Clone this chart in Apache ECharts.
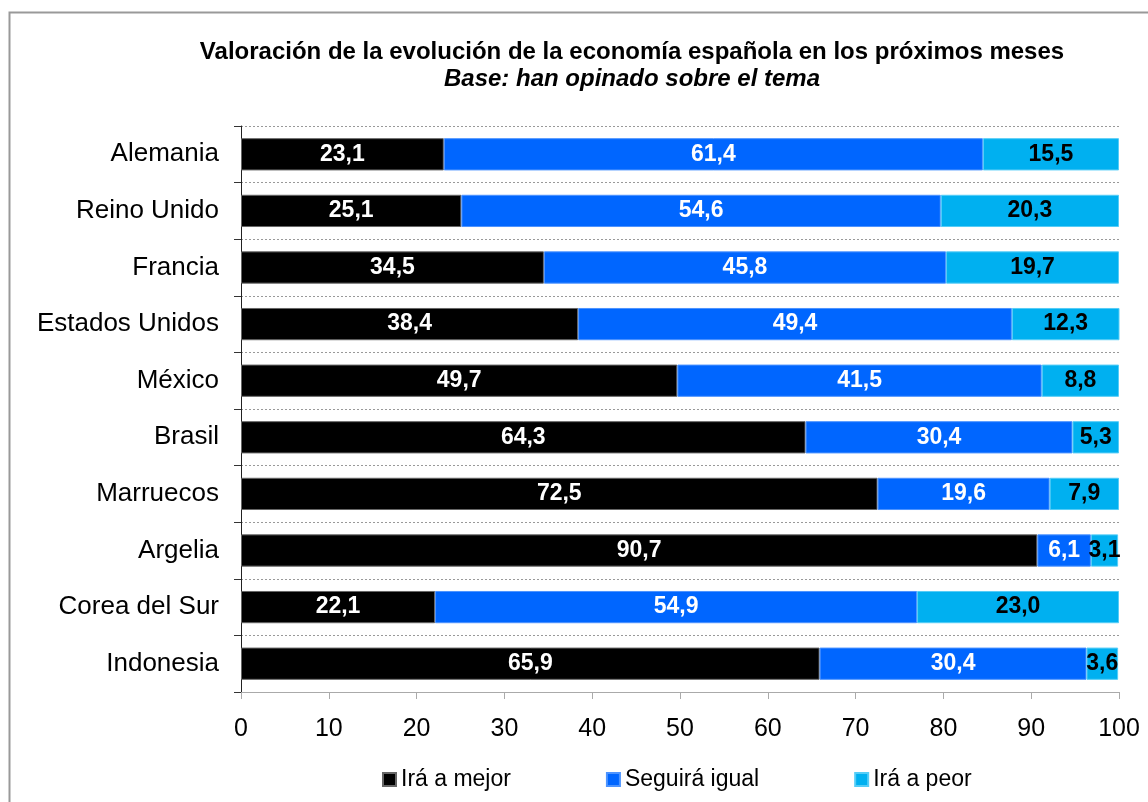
<!DOCTYPE html>
<html>
<head>
<meta charset="utf-8">
<script src="https://cdn.jsdelivr.net/npm/echarts@6/dist/echarts.min.js"></script>
<style>
  html, body { margin: 0; padding: 0; background: #fff; }
  #chart { width: 1148px; height: 802px; }
</style>
</head>
<body>
<div id="chart"></div>
<script>
const countries = ['Alemania', 'Reino Unido', 'Francia', 'Estados Unidos', 'México',
  'Brasil', 'Marruecos', 'Argelia', 'Corea del Sur', 'Indonesia']
const mejor = [23.1, 25.1, 34.5, 38.4, 49.7, 64.3, 72.5, 90.7, 22.1, 65.9]
const igual = [61.4, 54.6, 45.8, 49.4, 41.5, 30.4, 19.6, 6.1, 54.9, 30.4]
const peor = [15.5, 20.3, 19.7, 12.3, 8.8, 5.3, 7.9, 3.1, 23.0, 3.6]
const seriesNames = ['Irá a mejor', 'Seguirá igual', 'Irá a peor']

const font = 'Liberation Sans, Arial, Helvetica, sans-serif'
const fmt = (p) => p.value.toFixed(1).replace('.', ',')

function barSeries(name, data, color, border, labelColor) {
  return {
    name,
    type: 'bar',
    stack: 'total',
    barWidth: '57%',
    data,
    itemStyle: { color, borderColor: border, borderWidth: 1 },
    label: {
      show: true,
      position: 'inside',
      formatter: fmt,
      color: labelColor,
      fontFamily: font,
      fontWeight: 'bold',
      fontSize: 23
    }
  }
}

const chart = echarts.init(document.getElementById('chart'))
chart.setOption({
  animation: false,
  textStyle: { fontFamily: font },
  title: {
    text: 'Valoración de la evolución de la economía española en los próximos meses',
    subtext: 'Base: han opinado sobre el tema',
    left: 627,
    top: 35,
    textAlign: 'center',
    itemGap: 3,
    textStyle: { fontFamily: font, fontSize: 24, fontWeight: 'bold', color: '#000' },
    subtextStyle: { fontFamily: font, fontSize: 24, fontWeight: 'bold', fontStyle: 'italic', color: '#000' }
  },
  graphic: [{
    type: 'rect',
    shape: { x: 9.5, y: 12.5, width: 1400, height: 1000 },
    style: { fill: 'none', stroke: '#999', lineWidth: 2 },
    silent: true
  }],
  legend: {
    data: seriesNames,
    left: 377,
    top: 763,
    itemWidth: 13,
    itemHeight: 13,
    itemGap: 95,
    icon: 'rect',
    textStyle: { fontFamily: font, fontSize: 23, color: '#000' }
  },
  grid: { left: 241, right: 29, top: 126, bottom: 110 },
  xAxis: {
    type: 'value',
    min: 0,
    max: 100,
    interval: 10,
    axisLine: { show: true, lineStyle: { color: '#aaa', width: 1 } },
    axisTick: { show: true, length: 7, lineStyle: { color: '#aaa' } },
    axisLabel: { color: '#000', fontSize: 25, margin: 25, fontFamily: font },
    splitLine: { show: false }
  },
  yAxis: {
    type: 'category',
    data: countries,
    inverse: true,
    axisLine: { show: true, lineStyle: { color: '#222', width: 1 } },
    axisTick: { show: true, length: 7, lineStyle: { color: '#333' } },
    axisLabel: { color: '#000', fontSize: 26, margin: 22, fontFamily: font },
    splitLine: { show: true, lineStyle: { color: '#999', type: [2, 2], width: 1 } }
  },
  series: [
    barSeries(seriesNames[0], mejor, '#000000', '#666666', '#fff'),
    barSeries(seriesNames[1], igual, '#0066FF', '#4d94ff', '#fff'),
    barSeries(seriesNames[2], peor, '#00B0F0', '#55cdf7', '#000')
  ]
})
</script>
</body>
</html>
